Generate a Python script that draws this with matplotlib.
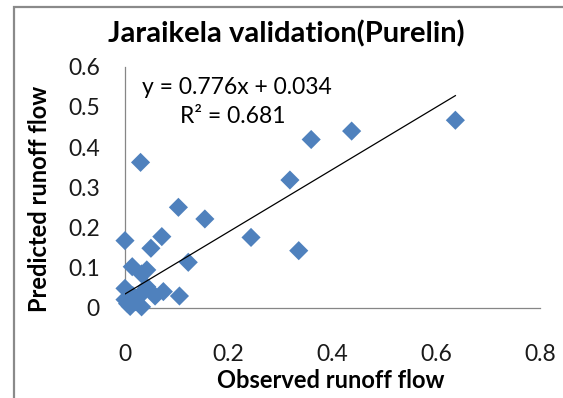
import matplotlib.pyplot as plt
import numpy as np
from matplotlib.patches import Rectangle

# observed vs predicted runoff (validation set)
observed = [0.637, 0.437, 0.359, 0.318, 0.030, 0.103, 0.154, 0.243, 0.335,
            0.000, 0.071, 0.050, 0.122, 0.014, 0.042, 0.032, 0.000, 0.042,
            0.058, 0.074, 0.105, 0.032, 0.010, 0.020, 0.000, 0.015, 0.005,
            0.025, 0.035]
predicted = [0.467, 0.440, 0.419, 0.318, 0.362, 0.250, 0.221, 0.175, 0.142,
             0.167, 0.177, 0.148, 0.113, 0.102, 0.094, 0.084, 0.048, 0.052,
             0.029, 0.040, 0.029, 0.002, 0.003, 0.015, 0.020, 0.030, 0.010,
             0.025, 0.040]

slope, intercept = 0.776, 0.034
r2 = 0.681

xticks = [0, 0.2, 0.4, 0.6, 0.8]
yticks = [0, 0.1, 0.2, 0.3, 0.4, 0.5, 0.6]
tick_labels_x = ['0', '0.2', '0.4', '0.6', '0.8']
tick_labels_y = ['0', '0.1', '0.2', '0.3', '0.4', '0.5', '0.6']

plt.rcParams['font.family'] = ['Lato', 'DejaVu Sans']

fig = plt.figure(figsize=(5.63, 3.98), dpi=100)
ax = fig.add_axes([0.222, 0.227, 0.737, 0.605])

ax.scatter(observed, predicted, marker='D', s=95, color='#4F81BD',
           edgecolors='none', zorder=3, clip_on=False)

xs = np.array([min(observed), max(observed)])
ax.plot(xs, slope * xs + intercept, color='black', lw=0.9, zorder=4)

ax.set_xlim(0, 0.8)
ax.set_ylim(0, 0.6)
ax.set_xticks(xticks)
ax.set_xticklabels(tick_labels_x)
ax.set_yticks(yticks)
ax.set_yticklabels(tick_labels_y)
ax.tick_params(axis='both', length=0, labelsize=16.5, colors='#1a1a1a')
ax.tick_params(axis='x', pad=26)
ax.tick_params(axis='y', pad=18)

for side in ['top', 'right']:
    ax.spines[side].set_visible(False)
for side in ['left', 'bottom']:
    ax.spines[side].set_color('#868686')
    ax.spines[side].set_linewidth(0.9)

ax.set_xlabel('Observed runoff flow', fontsize=17, fontweight='bold')
ax.set_ylabel('Predicted runoff flow', fontsize=17, fontweight='bold')
ax.xaxis.set_label_coords(0.496, -0.304)
ax.yaxis.set_label_coords(-0.205, 0.451)
ax.xaxis.label.set_va('center')
ax.yaxis.label.set_va('center')

fig.text(0.509, 0.915, 'Jaraikela validation(Purelin)', fontsize=21,
         fontweight='bold', ha='center', va='center')

ax.text(0.033, 0.549, 'y = %.3fx + %.3f' % (slope, intercept), fontsize=16.5,
        ha='left', va='center')
ax.text(0.106, 0.477, 'R\u00b2 = %.3f' % r2, fontsize=16.5, ha='left', va='center')

# outer chart frame
fig.patches.append(Rectangle((14 / 563, -0.1), 1.2, 1.1 - 7 / 398,
                             transform=fig.transFigure, fill=False,
                             edgecolor='#8a8a8a', lw=1.6))

fig.savefig('out.png', dpi=100)
